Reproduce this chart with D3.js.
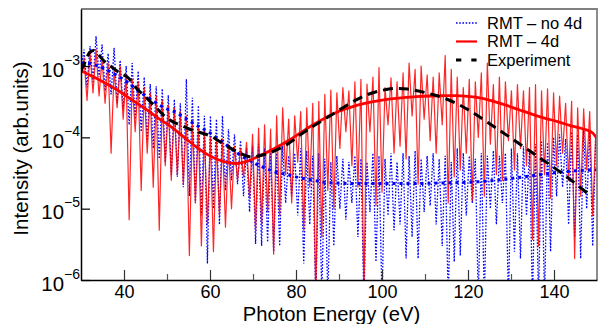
<!DOCTYPE html>
<html>
<head>
<meta charset="utf-8">
<script src="https://cdn.jsdelivr.net/npm/d3@7"></script>
<style>
  body { margin: 0; background: #fff; }
  svg { display: block; font-family: "Liberation Sans", Arial, sans-serif; }
</style>
</head>
<body>
<svg id="chart" width="611" height="324"></svg>
<script>
// intensities below are in units of 1e-6 arb.units
const UNIT = 1e-6;

// raw spectra, sampled every 0.7 eV starting at 30 eV
const energyStart = 30;
const energyStep = 0.7;

const rawNo4d = [
  900,1700,500,1900,600,2600,700,2000,450,1500,
  400,1800,300,1200,250,1000,150,1100,180,850,
  120,700,90,560,70,520,50,480,45,390,
  30,340,28,300,20,650,15,360,12,280,
  8,200,1.7,200,10,180,6,200,18,130,
  25,110,22,90,15,70,9,75,3.2,80,
  3,70,3.4,65,2.5,60,3,76,12,55,
  15,60,8,70,1.7,65,6,55,0.5,60,
  0.6,50,0.5,45,3,55,10,50,7,45,
  12,55,4,50,0.5,45,9,60,1.8,55,
  0.5,50,8,60,5,45,6,60,2,55,
  4,65,2,50,9,55,11,60,6,50,
  3,55,0.5,45,1.8,70,2.2,60,8,55,
  12,50,0.5,60,0.5,55,10,65,6,55,
  12,60,0.5,70,2.5,60,2,75,8,65,
  0.5,80,0.5,90,0.5,85,2.5,100,15,110,
  20,95,6,120,4,110,2,130,10,120,
  3,100
];

const raw4d = [
  700,1300,330,1500,420,1700,380,1250,300,1100,
  60,900,260,1000,180,750,7,650,120,600,
  18,500,60,420,20,380,5,330,40,280,
  25,260,30,230,22,200,2.2,160,12,140,
  3,120,6,100,2.5,90,8,95,5.5,80,
  10,75,25,70,28,85,14,110,5,135,
  6,150,9,130,2.3,200,8,260,30,180,
  12,200,45,230,5,260,20,300,0.5,320,
  4,400,18,460,10,420,70,500,120,450,
  40,600,20,650,0.6,560,120,700,11,950,
  17,500,150,680,60,600,75,800,50,1100,
  200,900,22,1000,180,750,90,700,60,800,
  150,1400,12,900,28,700,35,500,60,650,
  13,600,100,800,15,1100,80,550,30,700,
  25,600,90,450,35,550,70,450,40,500,
  3.7,550,3,450,30,480,14,420,40,380,
  60,300,25,320,2,260,15,250,35,230,
  8,110
];

// smoothed curves (knots)
const smoothNo4dE = [30,32,34,36,38,40,42,44,46,48,50,52,54,56.7,60,63,66,69,72,75,78,81,84,88,95,105,115,120,125,130,135,140,145,150];
const smoothNo4dV = [1100,1080,1000,880,760,640,520,420,350,290,250,225,190,150,115,85,62,48,39,33,30,27,25,23,22.5,22.5,23,23.5,24.5,26.5,29,32,34,35];

const smooth4dE = [30,33,36,39,42,45,48,51,54,57,60,63,66,69,72,75,78,81,84,87,90,93,96,99,102,105,108,111,114,117,120,123,126,129,132,135,138,141,144,147,149,150];
const smooth4dV = [860,700,560,440,330,250,185,140,100,72,55,46,43,47,57,70,88,115,150,190,232,268,300,325,345,360,372,380,383,385,375,355,320,280,242,210,185,165,145,130,115,95];

const exptE = [30,31,32,33,34,35.5,37,39,41,43,45,47,49,51,53,55,57.5,60,63,66.5,69.7,72,74.3,78,82,86,89,91,94,97,100,103,106,109,112,115,118.5,121,124.7,128,132.5,136,140.2,144,148];
const exptV = [850,1150,1550,1650,1450,1150,980,800,680,480,370,280,210,170,150,132,118,105,82,62,53,56,62,80,120,170,220,262,335,405,455,485,475,440,395,345,275,225,160,118,77,55,37,25,16];

const xTicksMajor = [40,60,80,100,120,140];
const xTicksMinor = [50,70,90,110,130];
const yTicks = [1e-6,1e-5,1e-4,1e-3];
const legendLabels = ['RMT \u2013 no 4d', 'RMT \u2013 4d', 'Experiment'];

const svg = d3.select('#chart');
const plotLeft = 81, plotRight = 597, plotTop = 9, plotBottom = 280;

const x = d3.scaleLinear().domain([30, 150]).range([plotLeft, plotRight]);
const y = d3.scaleLog().domain([1e-6, 6.3e-3]).range([plotBottom, plotTop]);

svg.append('rect').attr('width', 611).attr('height', 324).attr('fill', '#fff');

svg.append('clipPath').attr('id', 'plotClip')
  .append('rect')
  .attr('x', plotLeft).attr('y', plotTop)
  .attr('width', plotRight - plotLeft).attr('height', plotBottom - plotTop);

const toPts = (es, vs) => es.map((e, i) => [e, vs[i]]);
const rawPts = vals => vals.map((v, i) => [energyStart + i * energyStep, v]);

const line = d3.line()
  .x(d => x(d[0]))
  .y(d => y(d[1] * UNIT));

const smoothLine = d3.line()
  .curve(d3.curveMonotoneX)
  .x(d => x(d[0]))
  .y(d => y(d[1] * UNIT));

const plot = svg.append('g').attr('clip-path', 'url(#plotClip)');

// RMT no 4d (raw)
plot.append('path')
  .datum(rawPts(rawNo4d))
  .attr('fill', 'none')
  .attr('stroke', '#0000ff')
  .attr('stroke-width', 1.3)
  .attr('stroke-dasharray', '1.6,1.6')
  .attr('d', line);

// RMT 4d (raw)
plot.append('path')
  .datum(rawPts(raw4d))
  .attr('fill', 'none')
  .attr('stroke', '#ff0000')
  .attr('stroke-width', 1.2)
  .attr('stroke-opacity', 0.85)
  .attr('stroke-linejoin', 'round')
  .attr('d', line);

// smoothed no 4d
plot.append('path')
  .datum(toPts(smoothNo4dE, smoothNo4dV))
  .attr('fill', 'none')
  .attr('stroke', '#0000ff')
  .attr('stroke-width', 3)
  .attr('stroke-dasharray', '3,4')
  .attr('d', smoothLine);

// smoothed 4d
plot.append('path')
  .datum(toPts(smooth4dE, smooth4dV))
  .attr('fill', 'none')
  .attr('stroke', '#ff0000')
  .attr('stroke-width', 2.8)
  .attr('d', smoothLine);

// experiment
plot.append('path')
  .datum(toPts(exptE, exptV))
  .attr('fill', 'none')
  .attr('stroke', '#000')
  .attr('stroke-width', 3)
  .attr('stroke-dasharray', '10,6')
  .attr('d', smoothLine);

// frame: top and right in grey
svg.append('path')
  .attr('d', `M${plotLeft},${plotTop}H${plotRight}V${plotBottom}`)
  .attr('fill', 'none')
  .attr('stroke', '#808080')
  .attr('stroke-width', 1.8);

// x axis
const xMajor = svg.append('g')
  .attr('transform', `translate(0,${plotBottom})`)
  .call(d3.axisBottom(x).tickValues(xTicksMajor).tickSizeInner(-10).tickSizeOuter(0).tickPadding(5.5));
xMajor.selectAll('text').attr('font-size', 18).attr('fill', '#000').attr('font-family', '"Liberation Sans", Arial, sans-serif');
xMajor.select('.domain').attr('stroke', '#000').attr('stroke-width', 1.5);
xMajor.selectAll('.tick line').attr('stroke', '#333').attr('stroke-width', 1.2);

svg.append('g')
  .attr('transform', `translate(0,${plotBottom})`)
  .call(d3.axisBottom(x).tickValues(xTicksMinor).tickSizeInner(-6).tickSizeOuter(0).tickFormat(''))
  .call(g => g.select('.domain').remove())
  .selectAll('.tick line').attr('stroke', '#555').attr('stroke-width', 1.2);

// y axis
const yAxis = svg.append('g')
  .attr('transform', `translate(${plotLeft},0)`)
  .call(d3.axisLeft(y).tickValues(yTicks).tickSizeInner(-9).tickSizeOuter(0).tickFormat(''));
yAxis.select('.domain').attr('stroke', '#000').attr('stroke-width', 1.5);
yAxis.selectAll('.tick line').attr('stroke', '#000').attr('stroke-width', 1.2);

yTicks.forEach(v => {
  const t = svg.append('text')
    .attr('x', 80)
    .attr('y', y(v) + 10.5)
    .attr('text-anchor', 'end')
    .attr('font-size', 20.4)
    .attr('fill', '#000');
  t.append('tspan').text('10');
  t.append('tspan')
    .attr('font-size', 14)
    .attr('dy', -12)
    .text('\u2212' + Math.round(-Math.log10(v)));
});

// axis titles
svg.append('text')
  .attr('x', 331.5).attr('y', 320.5)
  .attr('text-anchor', 'middle')
  .attr('font-size', 20.2)
  .text('Photon Energy (eV)');

svg.append('text')
  .attr('transform', 'translate(28,148.5) rotate(-90)')
  .attr('text-anchor', 'middle')
  .attr('font-size', 20.5)
  .text('Intensity (arb.units)');

// legend
const legendStyles = [
  { stroke: '#0000ff', width: 1.6, dash: '1.6,1.6' },
  { stroke: '#ff0000', width: 2.2, dash: null },
  { stroke: '#000', width: 3, dash: '5.3,10' }
];
const legend = svg.append('g');
legendLabels.forEach((label, i) => {
  const ly = 22 + i * 18.5;
  legend.append('line')
    .attr('x1', 456).attr('x2', 477)
    .attr('y1', ly + 1).attr('y2', ly + 1)
    .attr('stroke', legendStyles[i].stroke)
    .attr('stroke-width', legendStyles[i].width)
    .attr('stroke-dasharray', legendStyles[i].dash);
  legend.append('text')
    .attr('x', 487).attr('y', ly + 6.5)
    .attr('font-size', 16.5)
    .text(label);
});
</script>
</body>
</html>
